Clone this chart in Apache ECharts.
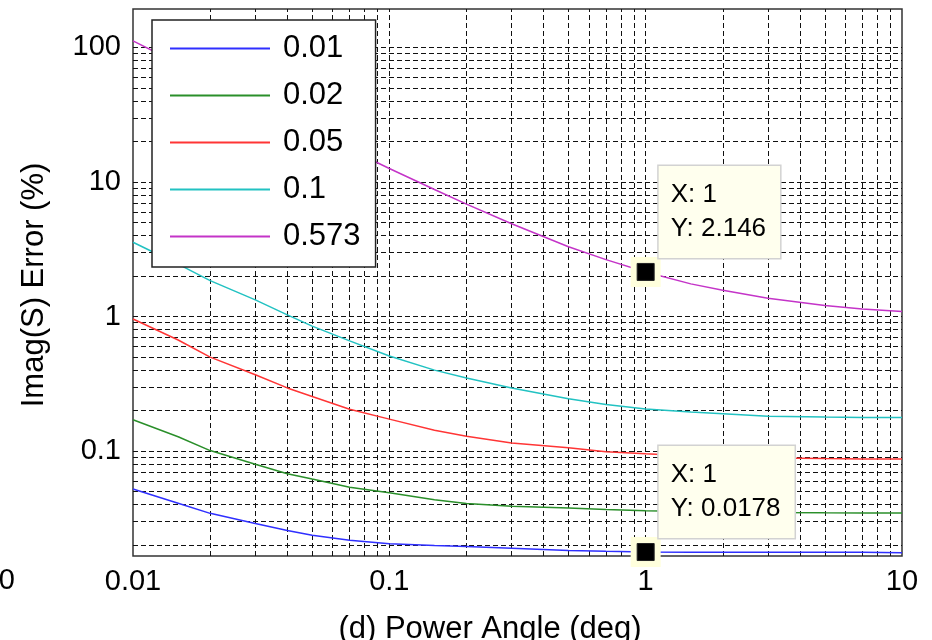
<!DOCTYPE html>
<html><head><meta charset="utf-8">
<script src="https://cdn.jsdelivr.net/npm/echarts@6/dist/echarts.min.js"></script>
<style>html,body{margin:0;padding:0;background:#fff}#c{width:932px;height:640px}</style>
</head><body><div id="c"></div>
<script>
const xValues = [0.01, 0.015, 0.02, 0.03, 0.04, 0.05, 0.07, 0.1, 0.15, 0.2, 0.3, 0.5, 0.7, 1, 1.5, 2, 3, 5, 7, 10];
const s001  = [0.0524, 0.041, 0.0345, 0.029, 0.0257, 0.0237, 0.0218, 0.0205, 0.0199, 0.0196, 0.019, 0.0183, 0.018, 0.0178, 0.0177, 0.0177, 0.0177, 0.0177, 0.0177, 0.0176];
const s002  = [0.171, 0.128, 0.101, 0.080, 0.068, 0.062, 0.054, 0.049, 0.0435, 0.0408, 0.039, 0.0378, 0.0368, 0.0361, 0.0356, 0.0353, 0.0350, 0.0348, 0.0347, 0.0347];
const s005  = [0.96, 0.67, 0.50, 0.37, 0.295, 0.255, 0.205, 0.173, 0.143, 0.129, 0.115, 0.106, 0.099, 0.0955, 0.092, 0.0905, 0.089, 0.088, 0.0875, 0.0874];
const s01   = [3.57, 2.45, 1.85, 1.33, 1.03, 0.85, 0.66, 0.51, 0.40, 0.35, 0.295, 0.245, 0.222, 0.206, 0.195, 0.19, 0.182, 0.179, 0.178, 0.178];
const s0573 = [112, 76, 57.5, 39, 29.5, 24, 17.5, 12.6, 8.8, 6.85, 4.9, 3.3, 2.65, 2.146, 1.75, 1.57, 1.37, 1.21, 1.14, 1.09];
const seriesNames = ['0.01', '0.02', '0.05', '0.1', '0.573'];
const seriesColors = ['#2f2fff', '#2a8f2a', '#ff3535', '#22c2c2', '#c434c8'];
const xTickLabels = ['0.01', '0.1', '1', '10'];
const yTickLabels = ['0.1', '1', '10', '100'];
const xGridValues = [0.02,0.03,0.04,0.05,0.06,0.07,0.08,0.09,0.1,0.2,0.3,0.4,0.5,0.6,0.7,0.8,0.9,1,2,3,4,5,6,7,8,9];
const yGridValues = [0.02,0.03,0.04,0.05,0.06,0.07,0.08,0.09,0.1,0.2,0.3,0.4,0.5,0.6,0.7,0.8,0.9,1,2,3,4,5,6,7,8,9,10,20,30,40,50,60,70,80,90,100];
const tipX = [1, 1];
const tipY = [2.146, 0.0178];
const tipSeries = [4, 0];

const FONT = '"Liberation Sans", Arial, Helvetica, sans-serif';
const allSeries = [s001, s002, s005, s01, s0573];
const chart = echarts.init(document.getElementById('c'));

function decadeLabel(v, labels, offset) {
  const l = Math.log10(v);
  const e = Math.round(l);
  if (Math.abs(l - e) > 1e-6) return '';
  return labels[e + offset] || '';
}

const series = [{
  type: 'line', name: '_grid', data: [[0.01, 1]], showSymbol: false, symbol: 'none',
  lineStyle: { opacity: 0 }, silent: true, z: 1,
  markLine: {
    silent: true, symbol: ['none', 'none'], animation: false, z: 1,
    label: { show: false },
    lineStyle: { type: [5, 3], color: '#111', width: 1 },
    emphasis: { disabled: true },
    data: xGridValues.map(v => ({ xAxis: v })).concat(yGridValues.map(v => ({ yAxis: v })))
  }
}];
allSeries.forEach((arr, i) => {
  const s = {
    type: 'line', name: seriesNames[i], symbol: 'none', showSymbol: false,
    data: xValues.map((x, k) => [x, arr[k]]),
    lineStyle: { color: seriesColors[i], width: 1.5 },
    itemStyle: { color: seriesColors[i] },
    z: 3, silent: true, animation: false
  };
  const tips = [];
  tipSeries.forEach((si, t) => {
    if (si !== i) return;
    tips.push({
      coord: [tipX[t], tipY[t]], symbol: 'rect', symbolSize: 30,
      itemStyle: { color: '#ffffdc' },
      label: {
        show: true, position: [28, -91],
        formatter: 'X: ' + tipX[t] + '\nY: ' + tipY[t],
        fontSize: 26, fontFamily: FONT, color: '#000', lineHeight: 34,
        backgroundColor: '#ffffee', borderColor: '#d2d2d2', borderWidth: 1.5,
        padding: [12, 14, 12, 12]
      }
    });
    tips.push({
      coord: [tipX[t], tipY[t]], symbol: 'rect', symbolSize: 17,
      itemStyle: { color: '#000', borderColor: '#222', borderWidth: 1 },
      label: { show: false }
    });
  });
  if (tips.length) {
    s.markPoint = { silent: true, animation: false, data: tips, z: 10 };
  }
  series.push(s);
});

chart.setOption({
  animation: false,
  backgroundColor: '#fff',
  grid: { left: 133, right: 30, top: 9, bottom: 84, show: true, borderColor: '#333', borderWidth: 1.5, backgroundColor: 'transparent' },
  xAxis: {
    type: 'log', logBase: 10, min: 0.01, max: 10,
    axisLine: { show: false }, axisTick: { show: false }, splitLine: { show: false },
    axisLabel: { fontSize: 29, fontFamily: FONT, color: '#000', margin: 11,
      formatter: v => decadeLabel(v, xTickLabels, 2) }
  },
  yAxis: {
    type: 'log', logBase: 10, min: 0.01663, max: 193,
    axisLine: { show: false }, axisTick: { show: false }, splitLine: { show: false },
    axisLabel: { fontSize: 29, fontFamily: FONT, color: '#000', margin: 12,
      formatter: v => decadeLabel(v, yTickLabels, 1) }
  },
  legend: {
    data: seriesNames, orient: 'vertical', left: 152, top: 20, z: 6,
    padding: [13, 15, 15, 17], itemWidth: 100, itemHeight: 30, itemGap: 16,
    backgroundColor: '#fff', borderColor: '#222', borderWidth: 1.5, borderRadius: 0,
    textStyle: { fontSize: 31, fontFamily: FONT, color: '#000', padding: [0, 0, 0, 8] },
    itemStyle: { opacity: 0 },
    selectedMode: false
  },
  graphic: [
    { type: 'text', x: 34, y: 285, rotation: Math.PI / 2, silent: true,
      style: { text: 'Imag(S) Error (%)', fontSize: 31, fontFamily: FONT, fill: '#000', align: 'center', verticalAlign: 'middle' } },
    { type: 'text', x: 490, y: 629, silent: true,
      style: { text: '(d) Power Angle (deg)', fontSize: 31, fontFamily: FONT, fill: '#000', align: 'center', verticalAlign: 'middle' } },
    { type: 'text', x: 15, y: 581, silent: true,
      style: { text: '0', fontSize: 29, fontFamily: FONT, fill: '#000', align: 'right', verticalAlign: 'middle' } }
  ],
  series: series
});
</script>
</body></html>
